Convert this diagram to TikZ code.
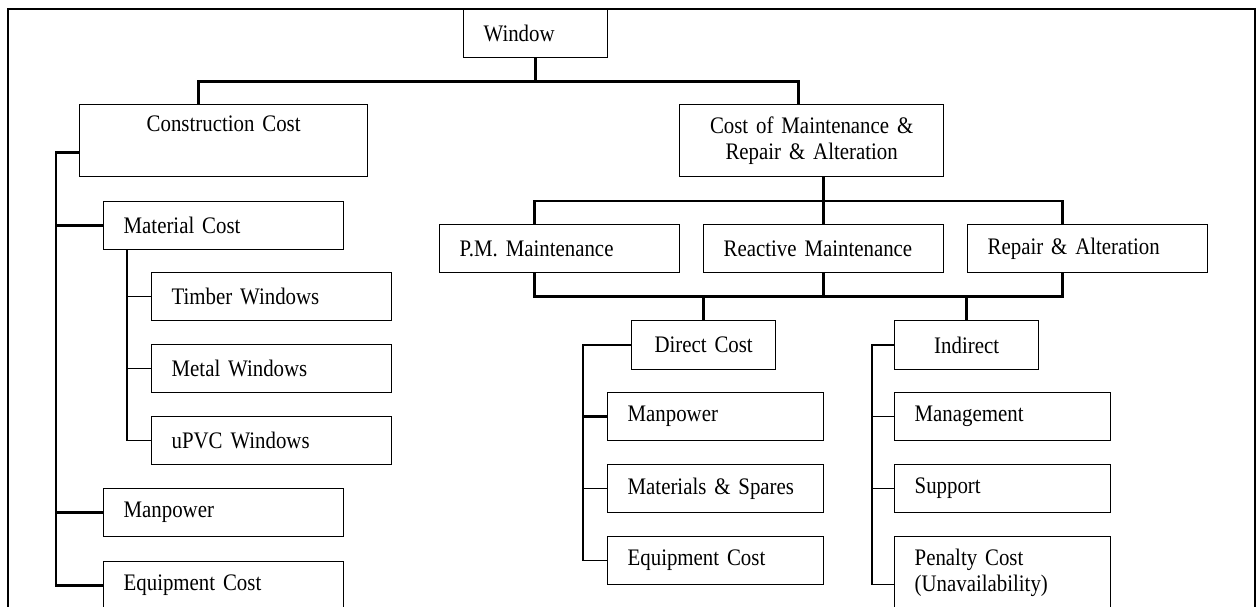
\documentclass[tikz,border=0pt]{standalone}
\usepackage{fontspec}
\setmainfont{Liberation Serif}[FakeStretch=0.88, WordSpace=0.6]
\usetikzlibrary{calc}

\begin{document}
\begin{tikzpicture}[x=1pt, y=-1pt, font=\fontsize{23.7}{25.5}\selectfont,
  box/.style={draw, line width=1.3pt, anchor=north west, inner xsep=20pt, inner ysep=0pt, align=left, minimum height=48pt},
  mid/.style={box, align=center},
  bus/.style={line width=2.6pt},
  twig/.style={line width=1pt}]
  \useasboundingbox (0,0) rectangle (1257,606);
  \clip (0,0) rectangle (1257,606);
  \draw[line width=1.3pt] (8,620) -- (8,9) -- (1255,9) -- (1255,620);

  \node[box, text width=104pt, minimum height=49pt] (win) at (463,8) {Window};

  \node[mid, text width=248pt, minimum height=72pt] (cc) at (79,104) {Construction Cost\\ \strut};
  \node[mid, text width=224pt, minimum height=72pt] (cmr) at (679,104) {Cost of Maintenance \&\\Repair \& Alteration};

  \node[box, text width=200pt] (mc) at (103,201) {Material Cost};
  \node[box, text width=200pt] (tw) at (151,272) {Timber Windows};
  \node[box, text width=200pt] (mw) at (151,344) {Metal Windows};
  \node[box, text width=200pt] (uw) at (151,416) {uPVC Windows};
  \node[box, text width=200pt] (mpc) at (103,488) {Manpower};
  \node[box, text width=200pt] (eqc) at (103,561) {Equipment Cost};

  \node[box, text width=200pt] (pm) at (439,224) {P.M. Maintenance};
  \node[box, text width=200pt] (rm) at (703,224) {Reactive Maintenance};
  \node[box, text width=200pt] (ra) at (967,224) {Repair \& Alteration};

  \node[mid, text width=104pt, minimum height=49pt] (dc) at (631,320) {Direct Cost};
  \node[mid, text width=104pt, minimum height=49pt] (ic) at (894,320) {Indirect};

  \node[box, text width=176pt] (dm) at (607,392) {Manpower};
  \node[box, text width=176pt] (ds) at (607,464) {Materials \& Spares};
  \node[box, text width=176pt] (de) at (607,536) {Equipment Cost};

  \node[box, text width=176pt] (im) at (894,392) {Management};
  \node[box, text width=176pt] (is) at (894,464) {Support};
  \node[box, text width=176pt, minimum height=72pt] (ip) at (894,536) {Penalty Cost\\(Unavailability)};

  \draw[bus] (win.south) -- ++(0,23) coordinate (wj);
  \draw[bus] ([xshift=-25pt]cc.north) |- (wj) -| ([xshift=-13pt]cmr.north);

  \draw[bus] (cmr.south -| rm.north) -- (rm.north);
  \draw[bus] ([xshift=-25pt]pm.north) -- ++(0,-23) -| ([xshift=-25pt]ra.north);
  \draw[bus] ([xshift=-25pt]pm.south) -- ++(0,23) -| ([xshift=-25pt]ra.south);
  \draw[bus] (rm.south) -- ++(0,23);
  \draw[bus] (dc.north) -- ++(0,-25);
  \draw[bus] (ic.north) -- ++(0,-25);

  \draw[bus] ([yshift=-12pt]cc.west) -- ++(-23,0) coordinate (ct) |- (eqc.west);
  \draw[bus] (mc.west) -- (mc.west -| ct);
  \draw[bus] (mpc.west) -- (mpc.west -| ct);

  \draw[bus] ([xshift=24pt]mc.south west) -- ([xshift=24pt]mc.south west |- uw.west) coordinate (mt);
  \foreach \n in {tw,mw,uw}
    \draw[twig] (\n.west) -- (\n.west -| mt);

  \draw[bus] (dc.west) -- ++(-48,0) coordinate (dt) -- (dt |- de.west);
  \draw[bus] (dm.west) -- (dm.west -| dt);
  \foreach \n in {ds,de}
    \draw[twig] (\n.west) -- (\n.west -| dt);

  \draw[bus] (ic.west) -- ++(-22,0) coordinate (it) -- ([yshift=-12pt]it |- ip.west);
  \foreach \n in {im,is}
    \draw[twig] (\n.west) -- (\n.west -| it);
  \draw[twig] ([yshift=-12pt]ip.west) -- ([yshift=-12pt]ip.west -| it);
\end{tikzpicture}
\end{document}
